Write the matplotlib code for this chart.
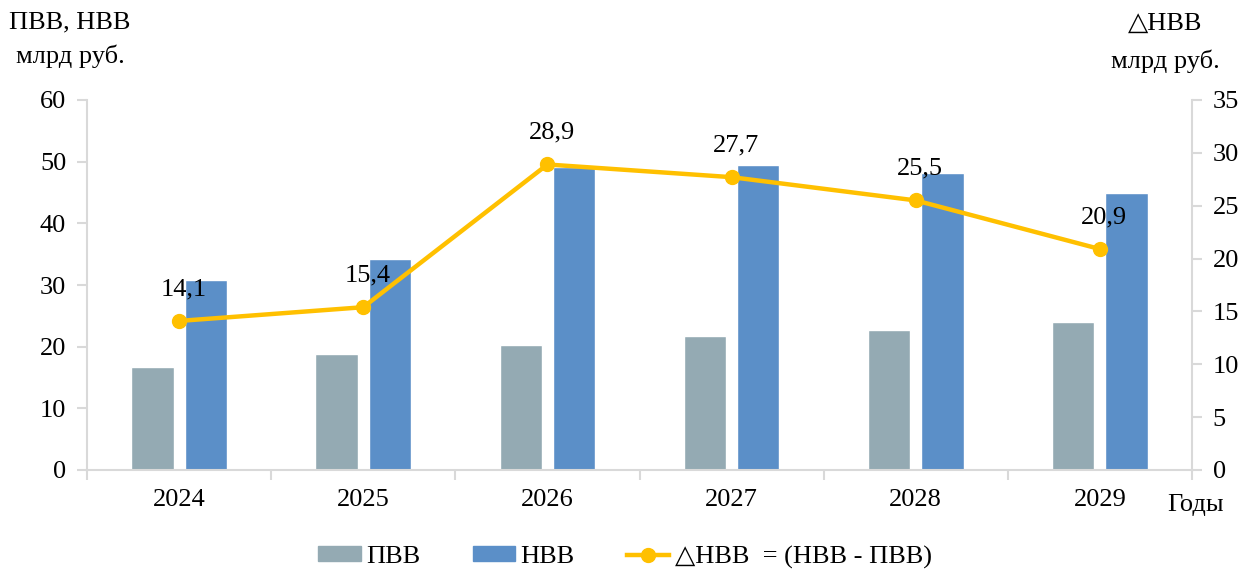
import matplotlib
matplotlib.use("Agg")
import matplotlib.pyplot as plt
import numpy as np
from matplotlib.lines import Line2D
from matplotlib.patches import Patch

years = ["2024", "2025", "2026", "2027", "2028", "2029"]
pvv = [16.7, 18.8, 20.3, 21.7, 22.7, 24.0]
nvv = [30.8, 34.2, 49.2, 49.4, 48.2, 44.9]
dnvv = [14.1, 15.4, 28.9, 27.7, 25.5, 20.9]
dnvv_labels = ["14,1", "15,4", "28,9", "27,7", "25,5", "20,9"]

plt.rcParams['font.family'] = ['Liberation Serif', 'DejaVu Serif']
FS = 19
C_PVV = "#94AAB3"
C_NVV = "#5B8FC8"
C_LINE = "#FFC000"
C_AX = "#D9D9D9"
TRI = "△"

fig = plt.figure(figsize=(12.44, 5.74), dpi=100)
ax = fig.add_axes([87/1244, 1-470/574, (1192-87)/1244, 370/574])
ax2 = ax.twinx()

x = np.arange(len(years))
w = 0.23
ax.bar(x - 0.145, pvv, w, color=C_PVV, edgecolor="white", linewidth=1, zorder=2)
ax.bar(x + 0.145, nvv, w, color=C_NVV, edgecolor="white", linewidth=1, zorder=2)

ax2.plot(x, dnvv, color=C_LINE, lw=3.2, marker="o", ms=10, zorder=3)
for xi, v, lab in zip(x, dnvv, dnvv_labels):
    ax2.annotate(lab, (xi, v), xytext=(3, 15), textcoords="offset points",
                 ha="center", va="bottom", fontsize=FS, color="black")

ax.set_xlim(-0.5, 5.5)
ax.set_ylim(0, 60)
ax2.set_ylim(0, 35)
ax.set_yticks(range(0, 61, 10))
ax2.set_yticks(range(0, 36, 5))
ax.set_xticks(x)
ax.set_xticklabels(years)
ax.set_xticks(np.arange(-0.5, 6.0, 1.0), minor=True)

for a in (ax, ax2):
    for s in a.spines.values():
        s.set_visible(False)
ax.spines['left'].set_visible(True)
ax.spines['bottom'].set_visible(True)
ax2.spines['right'].set_visible(True)
for s in (ax.spines['left'], ax.spines['bottom'], ax2.spines['right']):
    s.set_color(C_AX)
    s.set_linewidth(1.5)

ax.tick_params(axis='y', direction='out', length=7, width=1.5, color=C_AX,
               labelsize=FS, pad=8)
ax2.tick_params(axis='y', direction='out', length=7, width=1.5, color=C_AX,
                labelsize=FS, pad=8)
ax.tick_params(axis='x', which='major', length=0, labelsize=FS, pad=14)
ax.tick_params(axis='x', which='minor', length=7, width=1.5, color=C_AX)

fig.text(70/1244, 1-22/574, "ПВВ, НВВ", ha="center", va="center", fontsize=FS)
fig.text(70/1244, 1-56/574, "млрд руб.", ha="center", va="center", fontsize=FS)
fig.text(1165/1244, 1-24/574, TRI + "НВВ", ha="center", va="center", fontsize=FS)
fig.text(1165/1244, 1-61/574, "млрд руб.", ha="center", va="center", fontsize=FS)
fig.text(1196/1244, 1-505/574, "Годы", ha="center", va="center", fontsize=FS)

handles = [Patch(color=C_PVV), Patch(color=C_NVV),
           Line2D([0], [0], color=C_LINE, lw=3.2, marker="o", ms=10)]
labels = ["ПВВ", "НВВ", TRI + "НВВ  = (НВВ - ПВВ)"]
fig.legend(handles, labels, loc="center", bbox_to_anchor=(625/1244, 1-557/574),
           ncol=3, frameon=False, fontsize=FS, handlelength=1.6,
           handleheight=0.5, handletextpad=0.2, columnspacing=2.0)

fig.savefig("out.png", dpi=100)
